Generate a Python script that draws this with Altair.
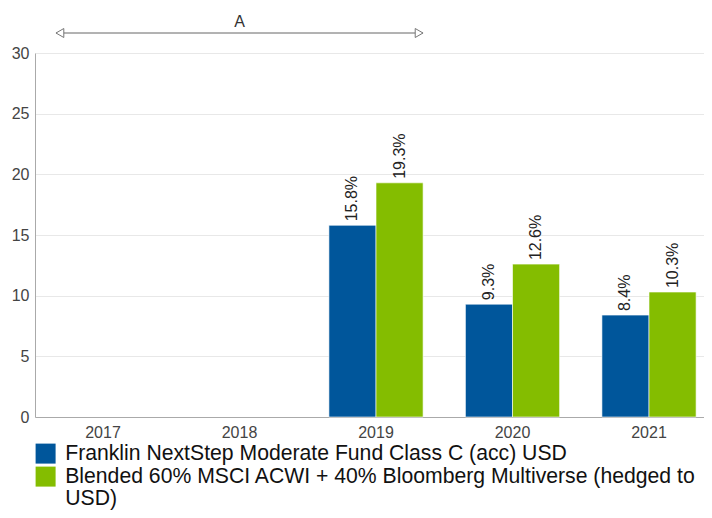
import altair as alt
import pandas as pd

# ---- data ----
years = ["2017", "2018", "2019", "2020", "2021"]
fund_name = "Franklin NextStep Moderate Fund Class C (acc) USD"
bench_name = "Blended 60% MSCI ACWI + 40% Bloomberg Multiverse (hedged to USD)"
bench_label_lines = ["Blended 60% MSCI ACWI + 40% Bloomberg Multiverse (hedged to", "USD)"]
fund_values = [None, None, 15.8, 9.3, 8.4]
bench_values = [None, None, 19.3, 12.6, 10.3]
series_names = [fund_name, bench_name]
series_colors = ["#00569b", "#84bd00"]
y_ticks = [0, 5, 10, 15, 20, 25, 30]
annotation_label = "A"
annotation_start = "2017"
annotation_mid = "2018"
annotation_end = "2019"

rows = []
for name, vals in zip(series_names, [fund_values, bench_values]):
    for yr, v in zip(years, vals):
        if v is not None:
            rows.append({"year": yr, "series": name, "value": v, "label": f"{v:.1f}%"})
df = pd.DataFrame(rows)
ann = pd.DataFrame({"start": [annotation_start], "mid": [annotation_mid],
                    "end": [annotation_end], "label": [annotation_label]})

FONT = "Liberation Sans"

x_scale = alt.Scale(domain=years, paddingInner=0.31, paddingOuter=0.1055, align=0.726)
off_scale = alt.Scale(domain=series_names)

label_expr = ("datum.label == '" + bench_name + "' ? ['" + bench_label_lines[0] + "', '"
              + bench_label_lines[1] + "'] : datum.label")

base = alt.Chart(df)

bars = base.mark_bar(stroke="white", strokeWidth=1, strokeOpacity=0.6).encode(
    x=alt.X("year:N", scale=x_scale, title=None),
    xOffset=alt.XOffset("series:N", scale=off_scale),
    y=alt.Y("value:Q", scale=alt.Scale(domain=[0, 30]), title=None,
            axis=alt.Axis(values=y_ticks)),
    color=alt.Color("series:N", scale=alt.Scale(domain=series_names, range=series_colors),
                    legend=alt.Legend(orient="none", legendX=0, legendY=390, direction="vertical",
                                      title=None, symbolType="square", symbolSize=400,
                                      symbolStrokeWidth=0, symbolOpacity=1,
                                      labelFontSize=21.2, labelFont=FONT, labelColor="#111",
                                      labelOffset=9, rowPadding=1, labelLimit=700,
                                      padding=0, offset=0, labelExpr=label_expr)),
)

texts = base.mark_text(angle=270, align="left", baseline="middle", dx=4,
                       fontSize=16, font=FONT, color="#222").encode(
    x=alt.X("year:N", scale=x_scale, title=None),
    xOffset=alt.XOffset("series:N", scale=off_scale),
    y=alt.Y("value:Q"),
    text="label:N",
)

ab = alt.Chart(ann)
rule = ab.mark_rule(color="#666", strokeWidth=1).encode(
    x=alt.X("start:N", scale=x_scale, bandPosition=0, title=None),
    x2=alt.X2("end", bandPosition=1),
    y=alt.value(-20),
)
left_head = ab.mark_point(shape="triangle-left", size=81, filled=True, fill="white",
                          stroke="#777", strokeWidth=1, opacity=1, xOffset=4).encode(
    x=alt.X("start:N", scale=x_scale, bandPosition=0, title=None),
    y=alt.value(-20),
)
right_head = ab.mark_point(shape="triangle-right", size=81, filled=True, fill="white",
                           stroke="#777", strokeWidth=1, opacity=1, xOffset=-4).encode(
    x=alt.X("end:N", scale=x_scale, bandPosition=1, title=None),
    y=alt.value(-20),
)
a_text = ab.mark_text(fontSize=16, font=FONT, color="#333", baseline="middle").encode(
    x=alt.X("mid:N", scale=x_scale, title=None),
    y=alt.value(-31),
    text="label:N",
)

chart = alt.layer(bars, texts, rule, left_head, right_head, a_text).properties(
    width=669, height=364,
    autosize=alt.AutoSizeParams(type="none"),
    padding={"left": 27, "top": 45, "right": 0, "bottom": 93},
).configure(
    style={"guide-label": {"lineHeight": 22}},
).configure_view(stroke=None).configure_axisX(
    labelAngle=0, labelFont=FONT, labelFontSize=16, labelColor="#444", labelPadding=7,
    ticks=False, grid=False, domainColor="#aaa", domainWidth=1,
).configure_axisY(
    labelFont=FONT, labelFontSize=16, labelColor="#444", labelPadding=6,
    ticks=False, grid=True, gridColor="#e8e8e8", domainColor="#aaa", domainWidth=1,
)

chart.save("out.html", embed_options={"renderer": "svg", "actions": False})
